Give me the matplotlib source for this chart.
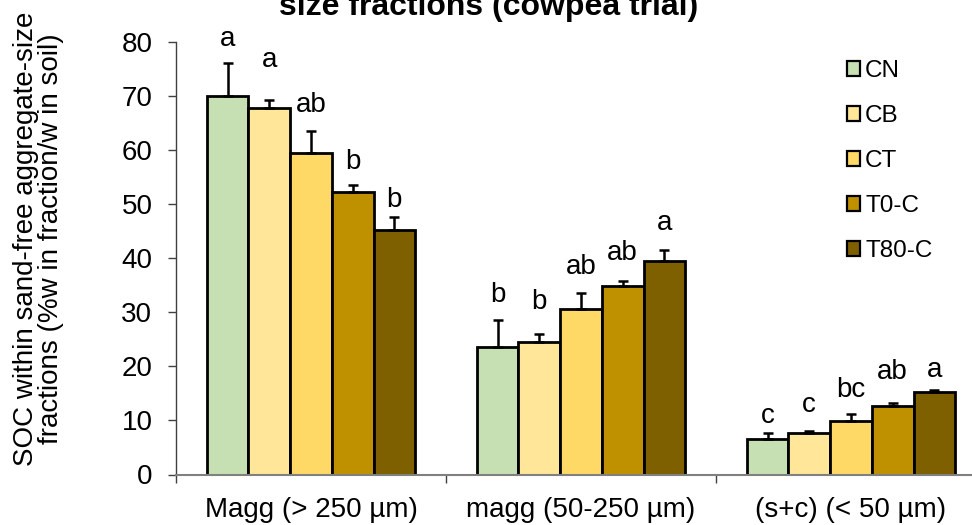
import matplotlib
matplotlib.use("Agg")
import matplotlib.pyplot as plt
import numpy as np
from matplotlib.patches import Patch

plt.rcParams["font.family"] = ["Liberation Sans", "DejaVu Sans"]

# Aggregate-size fractions and treatments
fractions = ["Magg (> 250 µm)", "magg (50-250 µm)", "(s+c) (< 50 µm)"]
treatments = ["CN", "CB", "CT", "T0-C", "T80-C"]
colors = ["#C6E0B4", "#FFE699", "#FFD966", "#BF9000", "#7F6000"]

# SOC means per treatment (one value per fraction)
soc_CN = [70.0, 23.6, 6.5]
soc_CB = [67.7, 24.5, 7.7]
soc_CT = [59.4, 30.6, 9.9]
soc_T0C = [52.3, 34.8, 12.7]
soc_T80C = [45.3, 39.5, 15.2]

# Standard errors
se_CN = [6.1, 5.0, 1.2]
se_CB = [1.5, 1.4, 0.3]
se_CT = [4.2, 2.9, 1.2]
se_T0C = [1.3, 0.9, 0.5]
se_T80C = [2.3, 2.1, 0.4]

# Significance letters
let_CN = ["a", "b", "c"]
let_CB = ["a", "b", "c"]
let_CT = ["ab", "ab", "bc"]
let_T0C = ["b", "ab", "ab"]
let_T80C = ["b", "a", "a"]

means = [soc_CN, soc_CB, soc_CT, soc_T0C, soc_T80C]
errors = [se_CN, se_CB, se_CT, se_T0C, se_T80C]
letters = [let_CN, let_CB, let_CT, let_T0C, let_T80C]
# space between error-bar cap and letter, data units
letter_gap = [[3.2, 3.4, 1.8], [6.2, 4.8, 3.6], [3.5, 3.6, 3.2],
              [3.0, 3.9, 4.5], [1.9, 3.6, 2.5]]

fig = plt.figure(figsize=(9.72, 5.25), dpi=100)
ax = fig.add_axes([176 / 972, 50.5 / 525, 810 / 972, 432.5 / 525])

bar_w = 0.1544
x = np.arange(len(fractions)) + 0.5
for j, (name, col) in enumerate(zip(treatments, colors)):
    xs = x + (j - 2) * bar_w
    ax.bar(xs, means[j], width=bar_w, color=col, edgecolor="black",
           linewidth=2.0, zorder=2)
    ax.errorbar(xs, means[j], yerr=[np.zeros(len(fractions)), errors[j]],
                fmt="none", ecolor="black", elinewidth=1.8, capsize=3.5,
                capthick=1.8, zorder=3)
    for k in range(len(fractions)):
        ax.text(xs[k], means[j][k] + errors[j][k] + letter_gap[j][k],
                letters[j][k], ha="center", va="baseline", fontsize=20)

ax.set_xlim(0, 3)
ax.set_ylim(0, 80)
ax.set_yticks(np.arange(0, 81, 10))
ax.tick_params(axis="y", labelsize=20, length=6, width=1.0, color="#404040",
               pad=11)
ax.set_xticks([0, 1, 2, 3])
ax.set_xticklabels([])
ax.tick_params(axis="x", which="major", length=5.5, width=1.0, color="#404040")
ax.set_xticks(x, minor=True)
ax.set_xticklabels(fractions, minor=True)
ax.tick_params(axis="x", which="minor", length=0, labelsize=20, pad=16)

for s in ["top", "right"]:
    ax.spines[s].set_visible(False)
ax.spines["left"].set_color("#404040")
ax.spines["left"].set_linewidth(1.0)
ax.spines["bottom"].set_color("#808080")
ax.spines["bottom"].set_linewidth(1.5)

handles = [Patch(facecolor=c, edgecolor="black", linewidth=1.6) for c in colors]
fig.legend(handles, treatments, loc="upper left",
           bbox_to_anchor=(847 / 972, 1 - 60 / 525), frameon=False,
           fontsize=17.5, handlelength=0.55, handleheight=0.55,
           handletextpad=0.2, labelspacing=0.95, borderpad=0,
           borderaxespad=0)

fig.text(39 / 972, 1 - 239 / 525,
         "SOC within sand-free aggregate-size\nfractions (%w in fraction/w in soil)",
         rotation=90, ha="center", va="center", multialignment="center",
         fontsize=20, linespacing=0.95)

fig.text(0.503, 1 - 15 / 525, "size fractions (cowpea trial)",
         ha="center", va="baseline", fontsize=23, fontweight="bold")

fig.savefig("out.png", dpi=100)
